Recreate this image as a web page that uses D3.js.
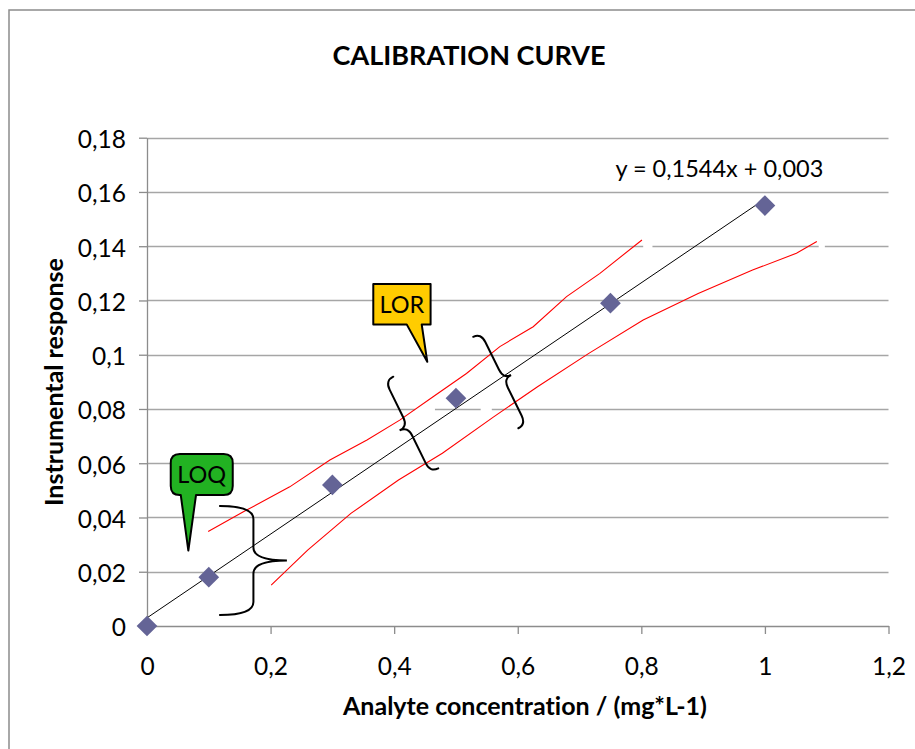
<!DOCTYPE html>
<html>
<head>
<meta charset="utf-8">
<script src="https://cdn.jsdelivr.net/npm/d3@7"></script>
<style>
  html, body { margin: 0; padding: 0; background: #fff; }
  svg { display: block; }
  text { font-variant-ligatures: none; font-feature-settings: "liga" 0, "clig" 0; }
</style>
</head>
<body>
<svg id="chart" width="915" height="749"></svg>
<script>
// ---------------- DATA ----------------
const title = "CALIBRATION CURVE";
const xAxisTitle = "Analyte concentration / (mg*L-1)";
const yAxisTitle = "Instrumental response";

const concentrations = [0, 0.1, 0.3, 0.5, 0.75, 1];
const responses = [0, 0.018, 0.052, 0.084, 0.119, 0.155];

const trendSlope = 0.1544;
const trendIntercept = 0.003;
const trendRange = [0, 1];
const equationLabel = "y = 0,1544x + 0,003";
const equationAnchor = [0.758, 0.1655];   // data coords of label start / baseline

const xTicks = [0, 0.2, 0.4, 0.6, 0.8, 1, 1.2];
const xTickLabels = ["0", "0,2", "0,4", "0,6", "0,8", "1", "1,2"];
const yTicks = [0, 0.02, 0.04, 0.06, 0.08, 0.1, 0.12, 0.14, 0.16, 0.18];
const yTickLabels = ["0", "0,02", "0,04", "0,06", "0,08", "0,1", "0,12", "0,14", "0,16", "0,18"];

// hand-drawn red band lines
const upperBandX = [0.099, 0.156, 0.231, 0.296, 0.356, 0.409, 0.463, 0.517, 0.571, 0.625, 0.679, 0.733, 0.801];
const upperBandY = [0.0348, 0.0421, 0.0513, 0.0612, 0.0686, 0.0759, 0.0845, 0.0931, 0.1030, 0.1103, 0.1214, 0.1300, 0.1423];
const lowerBandX = [0.201, 0.260, 0.330, 0.407, 0.478, 0.561, 0.632, 0.715, 0.803, 0.892, 0.980, 1.051, 1.084];
const lowerBandY = [0.0151, 0.0280, 0.0415, 0.0538, 0.0637, 0.0771, 0.0882, 0.1005, 0.1128, 0.1226, 0.1312, 0.1374, 0.1417];

// braces: endpoints in data coords
const braceNames = ["LOQ", "LOR-left", "LOR-right"];
const braceStart = [[0.118, 0.0442], [0.3986, 0.0919], [0.528, 0.1066]];
const braceEnd   = [[0.118, 0.0041], [0.4714, 0.0581], [0.601, 0.0729]];

// callouts
const calloutLabels = ["LOQ", "LOR"];
const calloutTips = [[0.0669, 0.0278], [0.4536, 0.0974]];

// small white gaps in gridlines (from picture)
const gapY = [0.14, 0.14, 0.08, 0.08];
const gapX0 = [0.803, 1.087, 0.434, 0.540];
const gapX1 = [0.818, 1.097, 0.466, 0.558];

// ---------------- LAYOUT / STYLE ----------------
const FONT = "Lato, 'Open Sans', 'DejaVu Sans', sans-serif";
const svg = d3.select("#chart");
const x = d3.scaleLinear().domain([0, 1.2]).range([147, 888.5]);
const y = d3.scaleLinear().domain([0, 0.18]).range([626, 137.7]);

// outer chart frame
svg.append("rect").attr("x", 9).attr("y", 10).attr("width", 1000).attr("height", 1000)
  .attr("fill", "#fff").attr("stroke", "#8c8c8c").attr("stroke-width", 1.5);

// gridlines
svg.append("g").selectAll("line").data(yTicks.slice(1)).join("line")
  .attr("x1", x(0)).attr("x2", x(1.2))
  .attr("y1", d => Math.round(y(d)) + 0.5).attr("y2", d => Math.round(y(d)) + 0.5)
  .attr("stroke", "#a6a6a6").attr("stroke-width", 1.3);

// gaps
svg.append("g").selectAll("line").data(gapY).join("line")
  .attr("x1", (d, i) => x(gapX0[i])).attr("x2", (d, i) => x(gapX1[i]))
  .attr("y1", d => Math.round(y(d)) + 0.5).attr("y2", d => Math.round(y(d)) + 0.5)
  .attr("stroke", "#fff").attr("stroke-width", 3);

// axes
const yAxis = d3.axisLeft(y).tickValues(yTicks).tickSize(8).tickSizeOuter(0)
  .tickFormat((d, i) => yTickLabels[i]);
const gy = svg.append("g").attr("transform", `translate(${x(0)},0)`).call(yAxis);
gy.select(".domain").attr("stroke", "#8c8c8c").attr("stroke-width", 1.3);
gy.selectAll(".tick line").attr("stroke", "#8c8c8c").attr("stroke-width", 1.3);
gy.selectAll(".tick text").attr("x", -21).attr("dy", "0.4em")
  .attr("font-family", FONT).attr("font-size", 24.5).attr("fill", "#000");

const xAxis = d3.axisBottom(x).tickValues(xTicks).tickSize(8).tickSizeOuter(0)
  .tickFormat((d, i) => xTickLabels[i]);
const gx = svg.append("g").attr("transform", `translate(0,${y(0)})`).call(xAxis);
gx.select(".domain").attr("stroke", "#8c8c8c").attr("stroke-width", 1.3);
gx.selectAll(".tick line").attr("stroke", "#8c8c8c").attr("stroke-width", 1.3);
gx.selectAll(".tick text").attr("y", 49).attr("dy", 0)
  .attr("font-family", FONT).attr("font-size", 24.5).attr("fill", "#000");
svg.selectAll(".tick text").attr("font-weight", 400);

// red band lines
const bandLine = d3.line().x(d => x(d[0])).y(d => y(d[1]));
const upper = upperBandX.map((v, i) => [v, upperBandY[i]]);
const lower = lowerBandX.map((v, i) => [v, lowerBandY[i]]);
svg.append("g").selectAll("path").data([upper, lower]).join("path")
  .attr("d", bandLine).attr("fill", "none").attr("stroke", "#ff0000").attr("stroke-width", 1.1);

// trend line
const trend = trendRange.map(v => [v, trendSlope * v + trendIntercept]);
svg.append("path").datum(trend).attr("d", bandLine)
  .attr("fill", "none").attr("stroke", "#000").attr("stroke-width", 1);

// braces
function bracePath(p1, p2, w, r) {
  const dx = p2[0] - p1[0], dy = p2[1] - p1[1];
  const len = Math.hypot(dx, dy);
  const ux = dx / len, uy = dy / len;
  const nx = uy, ny = -ux;
  const P = (px, py, a, b) => [px + ux * a + nx * b, py + uy * a + ny * b];
  const mx = (p1[0] + p2[0]) / 2, my = (p1[1] + p2[1]) / 2;
  const h = w / 2;
  const pts = {
    a1: P(p1[0], p1[1], 0, h), a2: P(p1[0], p1[1], r, h),
    b1: P(mx, my, -r, h), bc: P(mx, my, 0, h), cusp: P(mx, my, 0, w), b2: P(mx, my, r, h),
    c1: P(p2[0], p2[1], -r, h), c2: P(p2[0], p2[1], 0, h)
  };
  const p = d3.path();
  p.moveTo(p1[0], p1[1]);
  p.quadraticCurveTo(pts.a1[0], pts.a1[1], pts.a2[0], pts.a2[1]);
  p.lineTo(pts.b1[0], pts.b1[1]);
  p.quadraticCurveTo(pts.bc[0], pts.bc[1], pts.cusp[0], pts.cusp[1]);
  p.quadraticCurveTo(pts.bc[0], pts.bc[1], pts.b2[0], pts.b2[1]);
  p.lineTo(pts.c1[0], pts.c1[1]);
  p.quadraticCurveTo(pts.c2[0], pts.c2[1], p2[0], p2[1]);
  return p.toString();
}
const braceDepth = [67, -18, 17];
const braceRadius = [13, 10, 10];
svg.append("g").selectAll("path").data(braceNames).join("path")
  .attr("d", (d, i) => bracePath(
      [x(braceStart[i][0]), y(braceStart[i][1])],
      [x(braceEnd[i][0]), y(braceEnd[i][1])],
      braceDepth[i], braceRadius[i]))
  .attr("fill", "none").attr("stroke", "#000").attr("stroke-width", 2).attr("stroke-linecap", "round");

// data points (diamonds)
svg.append("g").selectAll("path").data(concentrations).join("path")
  .attr("d", d3.symbol(d3.symbolSquare, 215)())
  .attr("transform", (d, i) => `translate(${x(d)},${y(responses[i])}) rotate(45)`)
  .attr("fill", "#646496");

// callouts
function calloutPath(tip, box, baseL, baseR, r) {
  const L = box[0], T = box[1], R = box[2], B = box[3];
  const p = d3.path();
  p.moveTo(L + r, T);
  p.lineTo(R - r, T);
  if (r) p.quadraticCurveTo(R, T, R, T + r);
  p.lineTo(R, B - r);
  if (r) p.quadraticCurveTo(R, B, R - r, B);
  p.lineTo(baseR, B);
  p.lineTo(tip[0], tip[1]);
  p.lineTo(baseL, B);
  p.lineTo(L + r, B);
  if (r) p.quadraticCurveTo(L, B, L, B - r);
  p.lineTo(L, T + r);
  if (r) p.quadraticCurveTo(L, T, L + r, T);
  p.closePath();
  return p.toString();
}
const calloutFill = ["#22b222", "#ffcc00"];
// box geometry relative to the tip, in pixels: [left, top, right, bottom, baseL, baseR, radius]
const calloutGeom = [[-17.6, -96.7, 44.4, -55.7, -7.6, 7.7, 9], [-54, -77.7, 3.3, -37.4, -20.6, -5.6, 0]];
const gc = svg.append("g").selectAll("g").data(calloutLabels).join("g");
gc.append("path").attr("d", (d, i) => {
  const tx = x(calloutTips[i][0]), ty = y(calloutTips[i][1]);
  const g = calloutGeom[i];
  return calloutPath([tx, ty], [tx + g[0], ty + g[1], tx + g[2], ty + g[3]], tx + g[4], tx + g[5], g[6]);
}).attr("fill", (d, i) => calloutFill[i]).attr("stroke", "#000").attr("stroke-width", 2).attr("stroke-linejoin", "round");
gc.append("text")
  .attr("x", (d, i) => x(calloutTips[i][0]) + (calloutGeom[i][0] + calloutGeom[i][2]) / 2)
  .attr("y", (d, i) => y(calloutTips[i][1]) + (calloutGeom[i][1] + calloutGeom[i][3]) / 2 + 8.5)
  .attr("text-anchor", "middle").attr("font-family", FONT).attr("font-size", 23.5).attr("fill", "#000")
  .text(d => d);

// equation label
svg.append("text").attr("x", x(equationAnchor[0])).attr("y", y(equationAnchor[1]))
  .attr("font-family", FONT).attr("font-size", 23.5).attr("fill", "#000").text(equationLabel);

// titles
svg.append("text").attr("x", 469).attr("y", 65).attr("text-anchor", "middle")
  .attr("font-family", FONT).attr("font-weight", 700).attr("font-size", 27).attr("fill", "#000").text(title);
svg.append("text").attr("x", 525).attr("y", 715).attr("text-anchor", "middle")
  .attr("font-family", FONT).attr("font-weight", 700).attr("font-size", 25).attr("fill", "#000").text(xAxisTitle);
svg.append("text").attr("transform", "translate(63,382) rotate(-90)").attr("text-anchor", "middle")
  .attr("font-family", FONT).attr("font-weight", 700).attr("font-size", 25).attr("fill", "#000").text(yAxisTitle);
</script>
</body>
</html>
